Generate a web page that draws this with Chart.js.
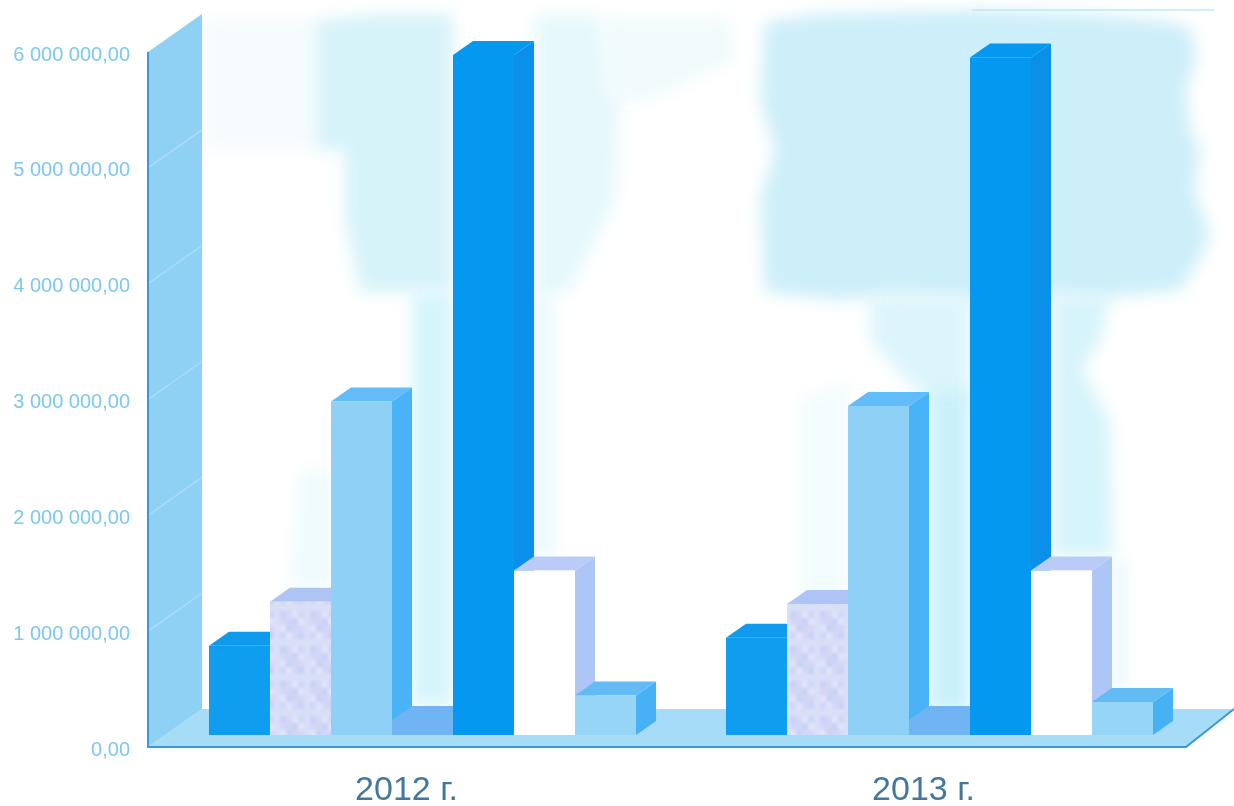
<!DOCTYPE html>
<html lang="ru">
<head>
<meta charset="utf-8">
<title>2012 г. - 2013 г.</title>
<script src="https://cdn.jsdelivr.net/npm/chart.js@4/dist/chart.umd.min.js"></script>
<style>
  html, body { margin: 0; padding: 0; background: #fff; }
  canvas { display: block; }
</style>
</head>
<body>
<canvas id="grafico" width="1234" height="806"></canvas>
<script>
const anos = ['2012 г.', '2013 г.'];
const valores2012 = [770000, 1150000, 2880000, 130000, 5870000, 1420000, 340000];
const valores2013 = [840000, 1130000, 2840000, 130000, 5850000, 1420000, 285000];
const frente = ['#0f9df0', null, '#8fd1f6', '#70b4f3', '#0598f0', '#ffffff', '#96d5f6'];
const topo   = ['#0f9aee', '#aec4f5', '#62bcf7', '#70b4f3', '#0598f0', '#b9cbf6', '#63bbf3'];
const lado   = ['#0f97ee', '#c3d3f6', '#48b3f6', '#70b4f3', '#0a90e8', '#aec6f6', '#47b1f6'];

// profundidade da caixa 3D, em px
const PROF_X = 54, PROF_Y = 38;
const BARRA_X = 16, BARRA_Y = 12, BARRA_DX = 20, BARRA_DY = 14;

// manchas claras da parede do fundo: cor e contorno
const manchas = [
  ['#f6fcfd', [[202,18],[316,18],[316,150],[202,150]]],
  ['#d6f3f9', [[316,20],[380,14],[453,15],[453,292],[360,292],[345,220],[345,150],[316,150]]],
  ['#e6f8fb', [[535,15],[600,15],[620,100],[615,200],[570,290],[535,300]]],
  ['#f1fbfc', [[600,18],[730,18],[735,60],[650,100],[605,100]]],
  ['#d5f5fb', [[412,292],[453,292],[453,706],[412,706]]],
  ['#e6f8fb', [[535,300],[552,300],[552,556],[535,556]]],
  ['#f0fbfd', [[300,470],[331,470],[331,590],[290,590]]],
  ['#cdeff9', [[765,22],[820,14],[975,10],[1090,14],[1170,22],[1192,30],[1196,60],[1186,90],[1190,130],[1200,150],[1194,190],[1210,235],[1198,262],[1180,290],[1100,298],[1055,296],[970,300],[900,296],[835,300],[765,292],[760,200],[775,150],[760,100]]],
  ['#dcf5fb', [[870,296],[970,296],[970,400],[930,400],[905,380],[870,340]]],
  ['#c9f1fa', [[929,390],[970,390],[970,712],[929,712]]],
  ['#f3fcfd', [[800,400],[848,380],[848,600],[800,625]]],
  ['#d6f4fb', [[1052,296],[1110,296],[1100,340],[1082,370],[1110,420],[1113,556],[1052,556]]],
  ['#e6f7fb', [[1113,560],[1125,560],[1125,690],[1113,690]]]
];

// textura manchada da segunda série (do tamanho do canvas, para não emendar dentro da barra)
function texturaLilas(ctx) {
  const c = document.createElement('canvas');
  c.width = 1234; c.height = 806;
  const g = c.getContext('2d');
  const tons = ['#cfd7f6', '#dadff8', '#c9d2f5', '#d6d6f7', '#e0e4fa'];
  for (let x = 0; x < 1234; x += 6) {
    for (let y = 0; y < 806; y += 7) {
      g.fillStyle = tons[(x * 7 + y * 11 + x * y * 3) % 5];
      g.fillRect(x, y, 6, 7);
    }
  }
  // uma passada só de blur, depois de pintar os blocos
  g.filter = 'blur(1.5px)';
  g.drawImage(c, 0, 0);
  return ctx.createPattern(c, 'repeat');
}

function poly(ctx, pts, cor) {
  ctx.fillStyle = cor;
  ctx.beginPath();
  pts.forEach((p, i) => i ? ctx.lineTo(p[0], p[1]) : ctx.moveTo(p[0], p[1]));
  ctx.closePath();
  ctx.fill();
}

function desenharCaixa(chart) {
  const { ctx, chartArea: a, scales } = chart;
  const dir = a.right + 4, base = a.bottom;

  ctx.save();
  ctx.filter = 'blur(8px)';
  manchas.forEach(m => poly(ctx, m[1], m[0]));
  ctx.restore();

  // fio claro no alto da parede do fundo
  ctx.strokeStyle = '#bfe8f6';
  ctx.lineWidth = 1.5;
  ctx.beginPath();
  ctx.moveTo(972, 10);
  ctx.lineTo(1214, 10);
  ctx.stroke();

  // piso
  poly(ctx, [[a.left, base], [dir, base], [dir + PROF_X - 6, base - PROF_Y], [a.left + PROF_X, base - PROF_Y]], '#a6dcf7');
  // parede esquerda
  poly(ctx, [[a.left, base], [a.left + PROF_X, base - PROF_Y], [a.left + PROF_X, a.top - PROF_Y], [a.left, a.top]], '#8fd0f5');
  // linhas de grade na parede
  ctx.strokeStyle = 'rgba(255,255,255,.25)';
  ctx.lineWidth = 1.5;
  scales.y.ticks.forEach(t => {
    if (t.value === 0 || t.value === 6000000) return;
    const y = scales.y.getPixelForValue(t.value);
    ctx.beginPath();
    ctx.moveTo(a.left, y);
    ctx.lineTo(a.left + PROF_X, y - PROF_Y);
    ctx.stroke();
  });
  // arestas da frente
  ctx.strokeStyle = '#3a97d8';
  ctx.lineWidth = 2;
  ctx.beginPath();
  ctx.moveTo(a.left, a.top);
  ctx.lineTo(a.left, base);
  ctx.lineTo(dir, base);
  ctx.lineTo(dir + PROF_X - 6, base - PROF_Y);
  ctx.stroke();
}

const caixa3d = {
  id: 'caixa3d',
  beforeDatasetsDraw(chart) {
    const ctx = chart.ctx;
    desenharCaixa(chart);
    ctx.save();
    ctx.translate(BARRA_X, -BARRA_Y);
    // da esquerda para a direita, para cada barra cobrir o lado da anterior
    chart.getSortedVisibleDatasetMetas().forEach(meta => {
      meta.data.forEach(bar => {
        const { x, y, base, width } = bar.getProps(['x', 'y', 'base', 'width'], true);
        const e = x - width / 2, d = x + width / 2;
        poly(ctx, [[d, base], [d + BARRA_DX, base - BARRA_DY], [d + BARRA_DX, y - BARRA_DY], [d, y]], lado[meta.index]);
        poly(ctx, [[e, y], [e + BARRA_DX, y - BARRA_DY], [d + BARRA_DX, y - BARRA_DY], [d, y]], topo[meta.index]);
        bar.draw(ctx);
      });
    });
    ctx.restore();
    return false; // já desenhado aqui
  }
};

window.addEventListener('DOMContentLoaded', () => {
  const canvas = document.getElementById('grafico');
  const ctx = canvas.getContext('2d');
  const lilas = texturaLilas(ctx);

  const datasets = valores2012.map((v, i) => ({
    data: [v, valores2013[i]],
    backgroundColor: frente[i] || lilas,
    borderWidth: 0,
    categoryPercentage: 0.826,
    barPercentage: 1
  }));

  new Chart(canvas, {
    type: 'bar',
    data: { labels: anos, datasets },
    plugins: [caixa3d],
    options: {
      responsive: false,
      animation: false,
      layout: { padding: { top: 52, right: 52, left: 0, bottom: 0 } },
      plugins: { legend: { display: false }, tooltip: { enabled: false } },
      scales: {
        x: {
          grid: { display: false },
          border: { display: false },
          afterFit: s => { s.height = 59; },
          ticks: { color: '#42789c', padding: 15, maxRotation: 0, font: { family: 'Liberation Sans', size: 34 } }
        },
        y: {
          min: 0,
          max: 6000000,
          grid: { display: false },
          border: { display: false },
          afterFit: s => { s.width = 148; },
          ticks: {
            stepSize: 1000000,
            color: '#7cc8ee',
            padding: 10,
            labelOffset: 3,
            font: { family: 'Liberation Sans', size: 20 },
            callback: v => v.toFixed(2).replace('.', ',').replace(/\B(?=(\d{3})+(?!\d))/g, ' ')
          }
        }
      }
    }
  });
});
</script>
</body>
</html>
